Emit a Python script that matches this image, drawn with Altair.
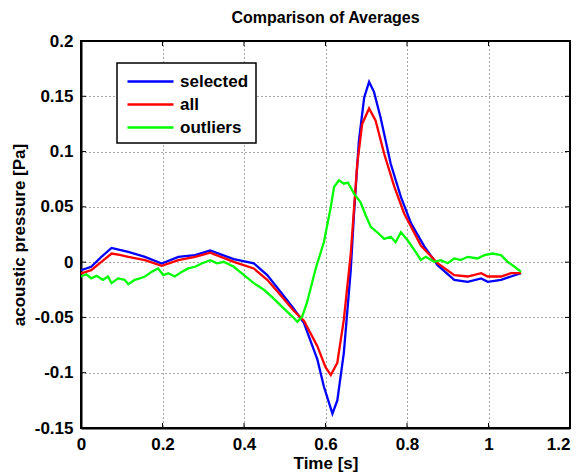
import altair as alt
import pandas as pd

# ---- data ----
t_selected = [0, 0.025, 0.05, 0.075, 0.095, 0.116, 0.157, 0.198, 0.239, 0.28, 0.317, 0.375,
              0.424, 0.457, 0.49, 0.522, 0.547, 0.58, 0.596, 0.617, 0.629, 0.645, 0.662, 0.67,
              0.682, 0.695, 0.707, 0.719, 0.735, 0.76, 0.785, 0.81, 0.842, 0.875, 0.916, 0.949,
              0.982, 0.998, 1.031, 1.055, 1.08]
v_selected = [-0.0072, -0.0042, 0.0048, 0.0128, 0.011, 0.0093, 0.0048, -0.0012, 0.0048, 0.0063,
              0.0105, 0.0027, -0.001, -0.0117, -0.027, -0.042, -0.055, -0.088, -0.1125, -0.137,
              -0.125, -0.082, -0.007, 0.044, 0.11, 0.149, 0.163, 0.154, 0.131, 0.089, 0.059, 0.035,
              0.0145, -0.0027, -0.016, -0.0178, -0.0147, -0.0178, -0.016, -0.013, -0.010]

t_all = [0, 0.025, 0.05, 0.075, 0.095, 0.116, 0.157, 0.198, 0.239, 0.28, 0.317, 0.375, 0.424,
         0.457, 0.49, 0.522, 0.547, 0.58, 0.6, 0.613, 0.629, 0.645, 0.662, 0.678, 0.69, 0.707,
         0.723, 0.744, 0.769, 0.793, 0.81, 0.834, 0.875, 0.916, 0.949, 0.982, 0.998, 1.031,
         1.055, 1.08]
v_all = [-0.0102, -0.0072, 0.0003, 0.0078, 0.0065, 0.0048, 0.0018, -0.0033, 0.0018, 0.0048,
         0.0085, 0.0003, -0.0057, -0.016, -0.030, -0.044, -0.053, -0.076, -0.095, -0.102, -0.091,
         -0.052, 0.0078, 0.089, 0.125, 0.139, 0.128, 0.098, 0.068, 0.044, 0.032, 0.015, -0.001,
         -0.0117, -0.013, -0.010, -0.013, -0.013, -0.010, -0.010]

t_outliers = [0, 0.013, 0.025, 0.038, 0.054, 0.066, 0.075, 0.091, 0.107, 0.116, 0.132, 0.144,
              0.157, 0.173, 0.189, 0.202, 0.214, 0.23, 0.247, 0.263, 0.28, 0.296, 0.317, 0.334,
              0.35, 0.375, 0.4, 0.424, 0.449, 0.473, 0.498, 0.518, 0.531, 0.543, 0.555, 0.576,
              0.596, 0.613, 0.621, 0.633, 0.645, 0.655, 0.67, 0.686, 0.699, 0.711, 0.727, 0.744,
              0.76, 0.772, 0.785, 0.801, 0.818, 0.834, 0.846, 0.867, 0.883, 0.9, 0.916, 0.932,
              0.949, 0.973, 0.99, 1.01, 1.031, 1.047, 1.064, 1.08]
v_outliers = [-0.013, -0.011, -0.0147, -0.0124, -0.016, -0.013, -0.019, -0.0147, -0.016, -0.020,
              -0.016, -0.0147, -0.013, -0.0088, -0.0057, -0.0117, -0.010, -0.013, -0.0088,
              -0.0057, -0.0042, -0.0012, 0.0018, -0.001, 0.0003, -0.0042, -0.0117, -0.019,
              -0.025, -0.033, -0.042, -0.049, -0.054, -0.049, -0.036, -0.0057, 0.018, 0.050,
              0.068, 0.074, 0.071, 0.072, 0.062, 0.054, 0.042, 0.032, 0.027, 0.021, 0.023, 0.018,
              0.027, 0.020, 0.011, 0.002, 0.0048, 0.0003, 0.0018, -0.001, 0.0033, 0.0018, 0.0048,
              0.0033, 0.0063, 0.0078, 0.0063, 0.0003, -0.0042, -0.0088]

series_names = ["selected", "all", "outliers"]
series_colors = ["#0000ff", "#ff0000", "#00ff00"]
x_ticks = [0, 0.2, 0.4, 0.6, 0.8, 1.0, 1.2]
y_ticks = [-0.15, -0.1, -0.05, 0, 0.05, 0.1, 0.15, 0.2]
title_text = ["Comparison of Averages"]

W, H = 489, 387
FONT = "Liberation Sans"

rows = []
for name, ts, vs in [("selected", t_selected, v_selected),
                     ("all", t_all, v_all),
                     ("outliers", t_outliers, v_outliers)]:
    for t, v in zip(ts, vs):
        rows.append({"series": name, "t": t, "v": v})
df = pd.DataFrame(rows)

lbl = "datum.value < 0 ? '-' + format(-datum.value, '~g') : format(datum.value, '~g')"

xscale = alt.Scale(domain=[0, 1.2], nice=False, zero=False)
yscale = alt.Scale(domain=[-0.15, 0.2], nice=False, zero=False)
color = alt.Color("series:N",
                  scale=alt.Scale(domain=series_names, range=series_colors),
                  sort=series_names,
                  legend=alt.Legend(title=None, orient="none", legendX=36, legendY=22,
                                    symbolType="M-0.8,0H3.8", symbolSize=400,
                                    symbolStrokeWidth=2.3, symbolFillColor="transparent",
                                    labelFontSize=17,
                                    labelFont=FONT, labelFontWeight="bold",
                                    labelColor="black", labelOffset=33,
                                    rowPadding=3, padding=7,
                                    strokeColor="black", fillColor="white"))

base = alt.Chart(df)

lines = []
for name in series_names:
    lines.append(
        base.transform_filter(alt.datum.series == name)
        .mark_line(strokeWidth=2.3, clip=True)
        .encode(
            x=alt.X("t:Q", scale=xscale,
                    axis=alt.Axis(values=x_ticks, labelExpr=lbl, title="Time [s]",
                                  grid=True, tickSize=0, labelPadding=8, titlePadding=3,
                                  labelFlush=False, labelOverlap=False,
                                  labelAlign={"condition": {"test": "datum.value > 1.19",
                                                            "value": "right"},
                                              "value": "center"})),
            y=alt.Y("v:Q", scale=yscale,
                    axis=alt.Axis(values=y_ticks, labelExpr=lbl,
                                  title="acoustic pressure [Pa]",
                                  grid=True, tickSize=0, labelPadding=8, titlePadding=6,
                                  labelFlush=False, labelOverlap=False)),
            color=color,
        )
    )

xt = pd.DataFrame({"t": x_ticks})
yt = pd.DataFrame({"v": y_ticks})
tick_top = alt.Chart(xt).mark_rule(color="black", strokeWidth=1).encode(
    x=alt.X("t:Q", scale=xscale), y=alt.value(0), y2=alt.value(5))
tick_bot = alt.Chart(xt).mark_rule(color="black", strokeWidth=1).encode(
    x=alt.X("t:Q", scale=xscale), y=alt.value(H - 5), y2=alt.value(H))
tick_left = alt.Chart(yt).mark_rule(color="black", strokeWidth=1).encode(
    y=alt.Y("v:Q", scale=yscale), x=alt.value(0), x2=alt.value(5))
tick_right = alt.Chart(yt).mark_rule(color="black", strokeWidth=1).encode(
    y=alt.Y("v:Q", scale=yscale), x=alt.value(W - 5), x2=alt.value(W))

title = alt.Chart(pd.DataFrame({"label": title_text})).mark_text(
    font=FONT, fontSize=16, fontWeight="bold", color="black",
    align="center", baseline="alphabetic"
).encode(text="label:N", x=alt.value(W / 2), y=alt.value(-18))

chart = alt.layer(tick_top, tick_bot, tick_left, tick_right, *lines, title).properties(
    width=W, height=H,
    autosize=alt.AutoSizeParams(type="none"),
    padding={"left": 73, "top": 33, "right": 6, "bottom": 45},
).configure_view(
    stroke="black", strokeWidth=2
).configure_axis(
    labelFont=FONT, labelFontSize=17, labelFontWeight="bold", labelColor="black",
    titleFont=FONT, titleFontSize=17, titleFontWeight="bold", titleColor="black",
    domainColor="black", domainWidth=2,
    gridColor="black", gridDash=[1, 3], gridOpacity=0.7, gridWidth=1,
).configure_legend(
    strokeWidth=1.5
)

chart.save("out.html", embed_options={"renderer": "svg", "actions": False})
